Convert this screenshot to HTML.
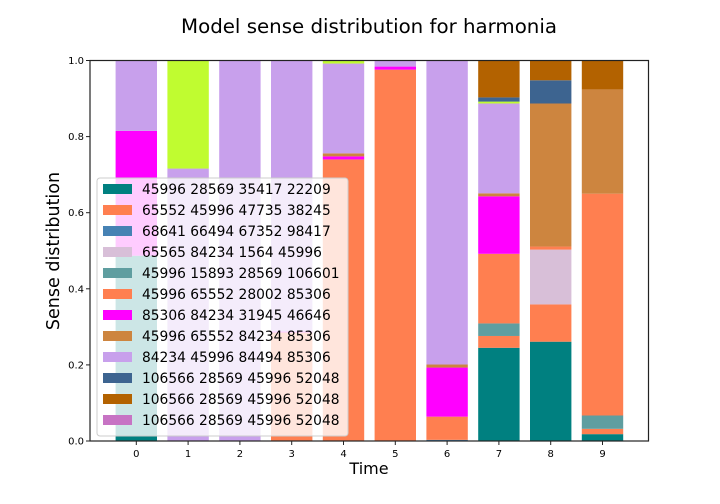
<!DOCTYPE html>
<html><head><meta charset="utf-8"><style>
body{margin:0;background:#fff;}
svg{display:block;font-family:"DejaVu Sans","Liberation Sans",sans-serif;}
</style></head><body>
<svg id="chart" width="720" height="504">
<text x="369" y="33" font-size="19.8" text-anchor="middle" fill="#000">Model sense distribution for harmonia</text>
<g id="bars"></g>
<g id="axes"></g>
<g id="legend"></g>
</svg>
<script>
const categories = ['0','1','2','3','4','5','6','7','8','9'];
const seriesNames = ['45996 28569 35417 22209','65552 45996 47735 38245','68641 66494 67352 98417','65565 84234 1564 45996','45996 15893 28569 106601','45996 65552 28002 85306','85306 84234 31945 46646','45996 65552 84234 85306','84234 45996 84494 85306','(extra)','106566 28569 45996 52048','106566 28569 45996 52048','106566 28569 45996 52048'];
const seriesColors = ['#008080','#ff7f50','#4682b4','#d8bfd8','#5f9ea0','#ff7f50','#ff00ff','#cd853f','#c8a0ec','#c0fc30','#3d6490','#b36200','#c773c4'];
const inLegend = [1,1,1,1,1,1,1,1,1,0,1,1,1];
const s0 = [0.487,0,0,0,0,0,0,0.245,0.261,0.018];
const s1 = [0,0,0,0,0.74,0.976,0,0.031,0.098,0.014];
const s2 = [0,0,0,0,0,0,0.003,0,0,0];
const s3 = [0,0,0,0,0,0,0,0,0.144,0];
const s4 = [0,0,0,0,0,0,0,0.033,0,0.035];
const s5 = [0,0,0,0.285,0,0,0.061,0.183,0.008,0.583];
const s6 = [0.328,0,0,0.003,0.008,0.008,0.129,0.151,0,0];
const s7 = [0,0,0,0,0.008,0,0.008,0.008,0.376,0.274];
const s8 = [0.185,0.716,1,0.712,0.236,0.016,0.799,0.236,0,0];
const s9 = [0,0.284,0,0,0.008,0,0,0.005,0,0];
const s10 = [0,0,0,0,0,0,0,0.011,0.061,0];
const s11 = [0,0,0,0,0,0,0,0.097,0.052,0.076];
const s12 = [0,0,0,0,0,0,0,0,0,0];
const series = [s0,s1,s2,s3,s4,s5,s6,s7,s8,s9,s10,s11,s12];
const yTicks = [0,0.2,0.4,0.6,0.8,1.0];

const NS='http://www.w3.org/2000/svg';
const L=90,R=648.5,T=60.5,B=441;
const xS=i=>136.3+i*51.8;
const yS=v=>B-(B-T)*v;
const bw=41.4;
function mk(t,a,p){const e=document.createElementNS(NS,t);for(const k in a)e.setAttribute(k,a[k]);p.appendChild(e);return e;}
const gb=document.getElementById('bars');
categories.forEach((c,i)=>{
  let acc=0;
  series.forEach((s,j)=>{
    const v=s[i]; if(v<=0){return;}
    const r=mk('rect',{x:xS(i)-bw/2,y:yS(acc+v),width:bw,height:yS(acc)-yS(acc+v),fill:seriesColors[j]},gb);
    
    
    acc+=v;
  });
});
const ga=document.getElementById('axes');
mk('rect',{x:L,y:T,width:R-L,height:B-T,fill:'none',stroke:'#222','stroke-width':1.2},ga);
categories.forEach((c,i)=>{
  mk('line',{x1:xS(i),x2:xS(i),y1:B,y2:B+4,stroke:'#222'},ga);
  const t=mk('text',{x:xS(i),y:B+16,'font-size':10,'text-anchor':'middle'},ga);t.textContent=c;
  
  
});
yTicks.forEach(v=>{
  mk('line',{x1:L-4,x2:L,y1:yS(v),y2:yS(v),stroke:'#222'},ga);
  const t=mk('text',{x:L-6,y:yS(v)+3.5,'font-size':10,'text-anchor':'end'},ga);t.textContent=v.toFixed(1);
  
  
});
const xt=mk('text',{x:369,y:474,'font-size':16,'text-anchor':'middle'},ga);xt.textContent='Time';


const yt=mk('text',{x:59,y:251,'font-size':17.5,'text-anchor':'middle',transform:'rotate(-90 59 251)'},ga);yt.textContent='Sense distribution';


const gl=document.getElementById('legend');
mk('rect',{x:97,y:178,width:251,height:258,rx:3,fill:'#fff','fill-opacity':0.8,stroke:'#ccc'},gl);
let k=0;
seriesNames.forEach((n,j)=>{
  if(!inLegend[j])return;
  const y=189+k*21;
  const sw=mk('rect',{x:103,y:y-5,width:29,height:10,fill:seriesColors[j]},gl);
  
  
  const t=mk('text',{x:142,y:y+5,'font-size':13.8},gl);t.textContent=n;
  
  
  k++;
});
</script>
</body></html>
